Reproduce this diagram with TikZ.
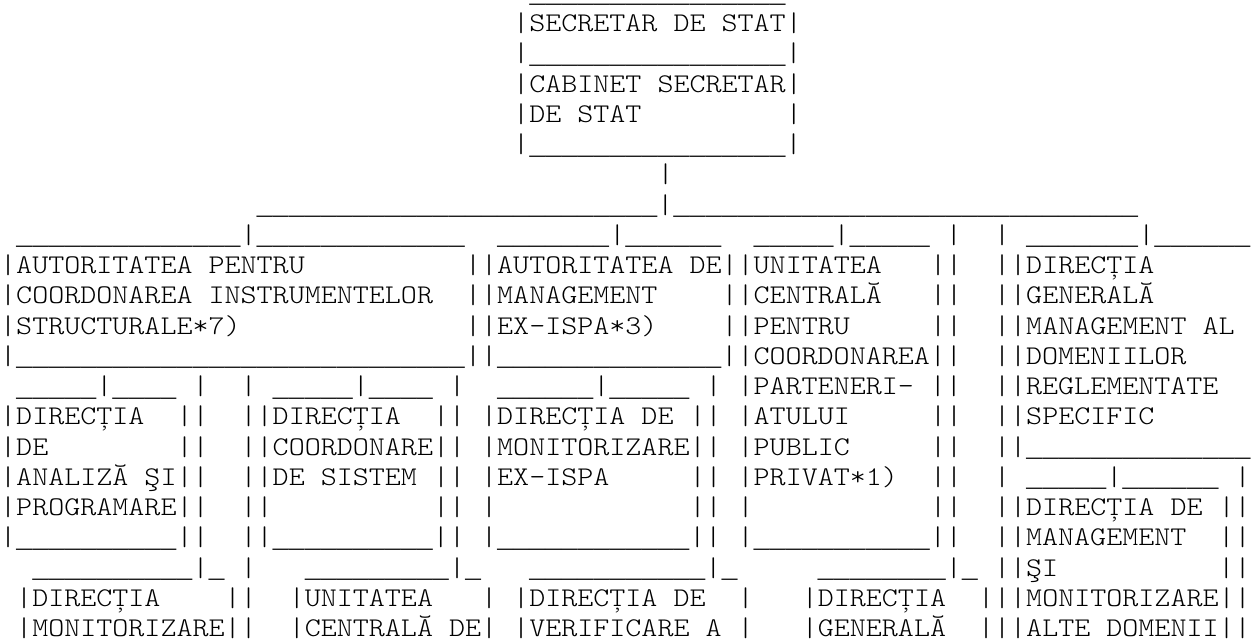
\documentclass[tikz,border=0pt]{standalone}
\usepackage{fontspec}
\usepackage{tikz}
\newfontfamily\asciifont[FakeStretch=1.131]{lmmonolt10-regular.otf}
\newfontfamily\barfont{Liberation Mono}

% runs of blanks and underscores
\newcommand\spc[1]{\foreach\n in {1,...,#1}{\nobreakspace}}
\newcommand\usc[1]{\raisebox{-1.5pt}{\barfont\fontsize{26.71pt}{30.24pt}\selectfont\foreach\n in {1,...,#1}{\_}}}

\tikzset{asciirow/.style={anchor=base west, inner sep=0pt, text=black,
  font=\asciifont\fontsize{27pt}{30.24pt}\selectfont}}

\begin{document}
\begin{tikzpicture}[x=1pt,y=-1pt]
  \fill[white] (0,0) rectangle (1251,638);
  \useasboundingbox (0,0) rectangle (1251,638);

  % secretar de stat + cabinet
  \node[asciirow] (row1) at (0,1.46) {\spc{33}\usc{16}};
  \node[asciirow] (row2) at (0,31.70) {\spc{32}|SECRETAR~DE~STAT|};
  \node[asciirow] (row3) at (0,61.94) {\spc{32}|\usc{16}|};
  \node[asciirow] (row4) at (0,92.18) {\spc{32}|CABINET~SECRETAR|};
  \node[asciirow] (row5) at (0,122.42) {\spc{32}|DE~STAT\spc{9}|};
  \node[asciirow] (row6) at (0,152.66) {\spc{32}|\usc{16}|};
  \node[asciirow] (row7) at (0,182.90) {\spc{41}|};
  \node[asciirow] (row8) at (0,213.14) {\spc{16}\usc{25}|\usc{29}};

  % autoritati, unitate, directia generala
  \node[asciirow] (row9) at (0,243.38) {~\usc{14}|\usc{13}\spc{2}\usc{7}|\usc{6}\spc{2}\usc{5}|\usc{5}~|\spc{2}|~\usc{7}|\usc{6}};
  \node[asciirow] (row10) at (0,273.62) {|AUTORITATEA~PENTRU\spc{10}||AUTORITATEA~DE||UNITATEA\spc{3}||\spc{2}||DIRECȚIA};
  \node[asciirow] (row11) at (0,303.86) {|COORDONAREA~INSTRUMENTELOR\spc{2}||MANAGEMENT\spc{4}||CENTRALĂ\spc{3}||\spc{2}||GENERALĂ};
  \node[asciirow] (row12) at (0,334.10) {|STRUCTURALE*7)\spc{14}||EX-ISPA*3)\spc{4}||PENTRU\spc{5}||\spc{2}||MANAGEMENT~AL};
  \node[asciirow] (row13) at (0,364.34) {|\usc{28}||\usc{14}||COORDONAREA||\spc{2}||DOMENIILOR};
  \node[asciirow] (row14) at (0,394.58) {~\usc{5}|\usc{4}~|\spc{2}|~\usc{5}|\usc{4}~|\spc{2}\usc{6}|\usc{5}~|~|PARTENERI-~||\spc{2}||REGLEMENTATE};

  % directii
  \node[asciirow] (row15) at (0,424.82) {|DIRECȚIA\spc{2}||\spc{2}||DIRECȚIA\spc{2}||~|DIRECȚIA~DE~||~|ATULUI\spc{5}||\spc{2}||SPECIFIC};
  \node[asciirow] (row16) at (0,455.06) {|DE\spc{8}||\spc{2}||COORDONARE||~|MONITORIZARE||~|PUBLIC\spc{5}||\spc{2}||\usc{14}};
  \node[asciirow] (row17) at (0,485.30) {|ANALIZĂ~ŞI||\spc{2}||DE~SISTEM~||~|EX-ISPA\spc{5}||~|PRIVAT*1)\spc{2}||\spc{2}|~\usc{5}|\usc{6}~|};
  \node[asciirow] (row18) at (0,515.54) {|PROGRAMARE||\spc{2}||\spc{10}||~|\spc{12}||~|\spc{11}||\spc{2}||DIRECȚIA~DE~||};
  \node[asciirow] (row19) at (0,545.78) {|\usc{10}||\spc{2}||\usc{10}||~|\usc{12}||~|\usc{11}||\spc{2}||MANAGEMENT\spc{2}||};

  % nivelul de jos
  \node[asciirow] (row20) at (0,576.02) {\spc{2}\usc{10}|\usc{1}~|\spc{3}\usc{9}|\usc{1}\spc{3}\usc{11}|\usc{1}\spc{5}\usc{8}|\usc{1}~||ŞI\spc{10}||};
  \node[asciirow] (row21) at (0,606.26) {~|DIRECȚIA\spc{4}||\spc{2}|UNITATEA\spc{3}|~|DIRECȚIA~DE\spc{2}|\spc{3}|DIRECȚIA\spc{2}|||MONITORIZARE||};
  \node[asciirow] (row22) at (0,636.50) {~|MONITORIZARE||\spc{2}|CENTRALĂ~DE|~|VERIFICARE~A~|\spc{3}|GENERALĂ\spc{2}|||ALTE~DOMENII||};
\end{tikzpicture}
\end{document}
